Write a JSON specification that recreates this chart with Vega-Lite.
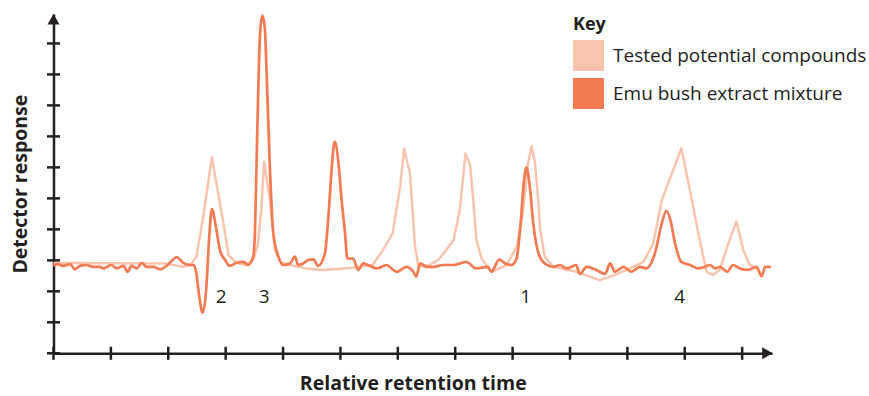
{
  "$schema": "https://vega.github.io/schema/vega-lite/v6.json",
  "width": 718.5,
  "height": 339.3,
  "autosize": {"type": "none"},
  "padding": {"left": 53.5, "top": 14, "right": 97, "bottom": 42.7},
  "background": "white",
  "config": {
    "view": {"stroke": null},
    "font": "Open Sans"
  },
  "datasets": {
    "tested": [
      {"t":0,"r":2.92},{"t":0.81,"r":2.91},{"t":1.94,"r":2.9},{"t":2.26,"r":2.79},{"t":2.38,"r":2.83},{"t":2.49,"r":3.12},{"t":2.6,"r":4.3},{"t":2.76,"r":6.32},{"t":2.84,"r":5.49},{"t":2.96,"r":4.2},{"t":3.05,"r":3.17},{"t":3.19,"r":2.92},{"t":3.34,"r":2.85},{"t":3.48,"r":3.01},{"t":3.56,"r":3.49},{"t":3.62,"r":4.62},{"t":3.67,"r":6.18},{"t":3.72,"r":5.58},{"t":3.77,"r":4.95},{"t":3.86,"r":3.33},{"t":3.95,"r":2.95},{"t":4.12,"r":2.85},{"t":4.4,"r":2.74},{"t":4.7,"r":2.69},{"t":5.17,"r":2.75},{"t":5.56,"r":2.85},{"t":5.74,"r":3.33},{"t":5.91,"r":3.88},{"t":6.04,"r":5.37},{"t":6.11,"r":6.61},{"t":6.21,"r":5.82},{"t":6.26,"r":4.53},{"t":6.3,"r":3.44},{"t":6.36,"r":2.79},{"t":6.56,"r":2.85},{"t":6.73,"r":3.06},{"t":6.97,"r":3.65},{"t":7.08,"r":4.62},{"t":7.18,"r":6.45},{"t":7.26,"r":6.07},{"t":7.31,"r":5.05},{"t":7.37,"r":3.65},{"t":7.46,"r":3.06},{"t":7.63,"r":2.63},{"t":7.9,"r":2.85},{"t":8.07,"r":3.44},{"t":8.18,"r":4.53},{"t":8.27,"r":6.13},{"t":8.33,"r":6.69},{"t":8.39,"r":6.14},{"t":8.45,"r":4.85},{"t":8.48,"r":3.98},{"t":8.56,"r":3.12},{"t":8.71,"r":2.79},{"t":9.11,"r":2.63},{"t":9.52,"r":2.36},{"t":9.73,"r":2.49},{"t":9.99,"r":2.69},{"t":10.28,"r":2.95},{"t":10.45,"r":3.55},{"t":10.6,"r":4.95},{"t":10.94,"r":6.61},{"t":11.09,"r":5.27},{"t":11.26,"r":3.65},{"t":11.38,"r":2.63},{"t":11.49,"r":2.53},{"t":11.61,"r":2.69},{"t":11.76,"r":3.55},{"t":11.9,"r":4.25},{"t":12.02,"r":3.33},{"t":12.13,"r":2.85},{"t":12.25,"r":2.74}
    ],
    "emu": [
      {"t":0,"r":2.82},{"t":0.06,"r":2.88},{"t":0.17,"r":2.82},{"t":0.29,"r":2.88},{"t":0.37,"r":2.71},{"t":0.46,"r":2.82},{"t":0.58,"r":2.85},{"t":0.69,"r":2.79},{"t":0.81,"r":2.79},{"t":0.87,"r":2.74},{"t":1.01,"r":2.85},{"t":1.1,"r":2.74},{"t":1.22,"r":2.82},{"t":1.29,"r":2.63},{"t":1.36,"r":2.82},{"t":1.45,"r":2.74},{"t":1.54,"r":2.92},{"t":1.62,"r":2.79},{"t":1.74,"r":2.79},{"t":1.86,"r":2.71},{"t":1.97,"r":2.82},{"t":2.15,"r":3.1},{"t":2.26,"r":2.92},{"t":2.38,"r":2.85},{"t":2.44,"r":2.85},{"t":2.49,"r":2.58},{"t":2.54,"r":1.83},{"t":2.6,"r":1.31},{"t":2.66,"r":2.04},{"t":2.71,"r":3.65},{"t":2.76,"r":4.65},{"t":2.83,"r":4.08},{"t":2.9,"r":3.33},{"t":2.99,"r":3.01},{"t":3.07,"r":2.82},{"t":3.19,"r":2.92},{"t":3.31,"r":2.95},{"t":3.39,"r":2.85},{"t":3.48,"r":3.12},{"t":3.51,"r":3.88},{"t":3.55,"r":7.11},{"t":3.6,"r":10.34},{"t":3.64,"r":10.9},{"t":3.68,"r":10.54},{"t":3.72,"r":8.71},{"t":3.77,"r":6.02},{"t":3.83,"r":3.88},{"t":3.92,"r":3.12},{"t":4.0,"r":2.85},{"t":4.12,"r":2.9},{"t":4.21,"r":3.12},{"t":4.26,"r":2.85},{"t":4.35,"r":2.9},{"t":4.44,"r":3.01},{"t":4.53,"r":3.03},{"t":4.61,"r":2.82},{"t":4.73,"r":3.23},{"t":4.79,"r":4.41},{"t":4.85,"r":6.02},{"t":4.9,"r":6.83},{"t":4.96,"r":6.24},{"t":5.02,"r":4.95},{"t":5.08,"r":3.88},{"t":5.12,"r":3.06},{"t":5.22,"r":3.06},{"t":5.31,"r":2.69},{"t":5.4,"r":2.9},{"t":5.48,"r":2.85},{"t":5.63,"r":2.74},{"t":5.8,"r":2.85},{"t":5.98,"r":2.63},{"t":6.15,"r":2.79},{"t":6.27,"r":2.63},{"t":6.32,"r":2.47},{"t":6.39,"r":2.9},{"t":6.5,"r":2.79},{"t":6.62,"r":2.79},{"t":6.79,"r":2.85},{"t":6.97,"r":2.85},{"t":7.19,"r":2.95},{"t":7.37,"r":2.74},{"t":7.57,"r":2.79},{"t":7.63,"r":2.63},{"t":7.77,"r":3.03},{"t":7.87,"r":2.9},{"t":7.98,"r":2.85},{"t":8.07,"r":3.06},{"t":8.13,"r":3.98},{"t":8.2,"r":5.59},{"t":8.24,"r":6.0},{"t":8.3,"r":5.37},{"t":8.36,"r":4.19},{"t":8.45,"r":3.23},{"t":8.56,"r":2.9},{"t":8.71,"r":2.79},{"t":8.82,"r":2.85},{"t":8.94,"r":2.74},{"t":9.11,"r":2.85},{"t":9.17,"r":2.56},{"t":9.29,"r":2.79},{"t":9.46,"r":2.69},{"t":9.61,"r":2.56},{"t":9.7,"r":2.9},{"t":9.78,"r":2.63},{"t":9.93,"r":2.79},{"t":10.07,"r":2.63},{"t":10.22,"r":2.79},{"t":10.33,"r":2.74},{"t":10.48,"r":3.23},{"t":10.6,"r":4.19},{"t":10.68,"r":4.6},{"t":10.75,"r":4.3},{"t":10.83,"r":3.55},{"t":10.94,"r":2.95},{"t":11.09,"r":2.85},{"t":11.23,"r":2.74},{"t":11.35,"r":2.79},{"t":11.44,"r":2.85},{"t":11.53,"r":2.74},{"t":11.61,"r":2.79},{"t":11.74,"r":2.63},{"t":11.84,"r":2.85},{"t":11.96,"r":2.74},{"t":12.1,"r":2.69},{"t":12.25,"r":2.79},{"t":12.34,"r":2.49},{"t":12.4,"r":2.79},{"t":12.5,"r":2.79}
    ],
    "xticks": [
      {"t":0,"r":0},{"t":1,"r":0},{"t":2,"r":0},{"t":3,"r":0},{"t":4,"r":0},{"t":5,"r":0},{"t":6,"r":0},{"t":7,"r":0},{"t":8,"r":0},{"t":9,"r":0},{"t":10,"r":0},{"t":11,"r":0},{"t":12,"r":0}
    ],
    "yticks": [
      {"t":0,"r":0},{"t":0,"r":1},{"t":0,"r":2},{"t":0,"r":3},{"t":0,"r":4},{"t":0,"r":5},{"t":0,"r":6},{"t":0,"r":7},{"t":0,"r":8},{"t":0,"r":9},{"t":0,"r":10}
    ],
    "labels": [
      {"t":2.92,"r":1.82,"label":"2"},{"t":3.67,"r":1.82,"label":"3"},{"t":8.23,"r":1.82,"label":"1"},{"t":10.91,"r":1.82,"label":"4"}
    ]
  },
  "encoding": {
    "x": {"field": "t", "type": "quantitative", "scale": {"domain": [0, 12.52], "nice": false, "zero": false},
      "axis": {"title": "Relative retention time", "labels": false, "ticks": false, "grid": false, "domainColor": "#231f20", "domainWidth": 2.5, "titleFont": "Open Sans", "titleFontSize": 19.5, "titleFontWeight": "bold", "titleColor": "#231f20", "titlePadding": 21}},
    "y": {"field": "r", "type": "quantitative", "scale": {"domain": [0, 10.95], "nice": false, "zero": false},
      "axis": {"title": "Detector response", "labels": false, "ticks": false, "grid": false, "domainColor": "#231f20", "domainWidth": 2.5, "titleFont": "Open Sans", "titleFontSize": 19.5, "titleFontWeight": "bold", "titleColor": "#231f20", "titlePadding": 23}}
  },
  "layer": [
    {
      "data": {"name": "tested"},
      "mark": {"type": "line", "strokeWidth": 2.5, "interpolate": "linear", "strokeJoin": "round"},
      "encoding": {
        "color": {"datum": "Tested potential compounds", "type": "nominal",
          "scale": {"domain": ["Tested potential compounds", "Emu bush extract mixture"], "range": ["#f9c4ae", "#f47a52"]},
          "legend": {"title": "Key", "orient": "none", "legendX": 519.5, "legendY": 2, "padding": 0,
            "symbolType": "square", "symbolSize": 961, "symbolStrokeWidth": 0, "symbolOpacity": 1,
            "labelFont": "Open Sans", "labelFontSize": 19, "labelColor": "#231f20", "labelOffset": 9, "labelLimit": 400,
            "titleFont": "Open Sans", "titleFontSize": 18, "titleFontWeight": "bold", "titleColor": "#231f20", "titlePadding": 6,
            "rowPadding": 7,
            "encode": {"symbols": {"update": {"fill": {"scale": "color", "field": "value"}, "strokeWidth": {"value": 0}, "opacity": {"value": 1}}}}}}
      }
    },
    {
      "data": {"name": "emu"},
      "mark": {"type": "line", "strokeWidth": 2.7, "interpolate": "monotone", "strokeJoin": "round"},
      "encoding": {"color": {"datum": "Emu bush extract mixture", "type": "nominal"}}
    },
    {
      "data": {"name": "xticks"},
      "mark": {"type": "tick", "orient": "vertical", "size": 13, "thickness": 2.5, "color": "#231f20", "opacity": 1}
    },
    {
      "data": {"name": "yticks"},
      "mark": {"type": "tick", "orient": "horizontal", "size": 13, "thickness": 2.5, "color": "#231f20", "opacity": 1}
    },
    {
      "data": {"values": [{"t": 0, "r": 10.78}]},
      "mark": {"type": "point", "shape": "triangle-up", "size": 144, "filled": true, "color": "#231f20", "opacity": 1}
    },
    {
      "data": {"values": [{"t": 12.44, "r": 0}]},
      "mark": {"type": "point", "shape": "triangle-right", "size": 144, "filled": true, "color": "#231f20", "opacity": 1}
    },
    {
      "data": {"name": "labels"},
      "mark": {"type": "text", "font": "Open Sans", "fontSize": 19, "color": "#231f20", "baseline": "middle", "align": "center"},
      "encoding": {"text": {"field": "label", "type": "nominal"}}
    }
  ]
}
